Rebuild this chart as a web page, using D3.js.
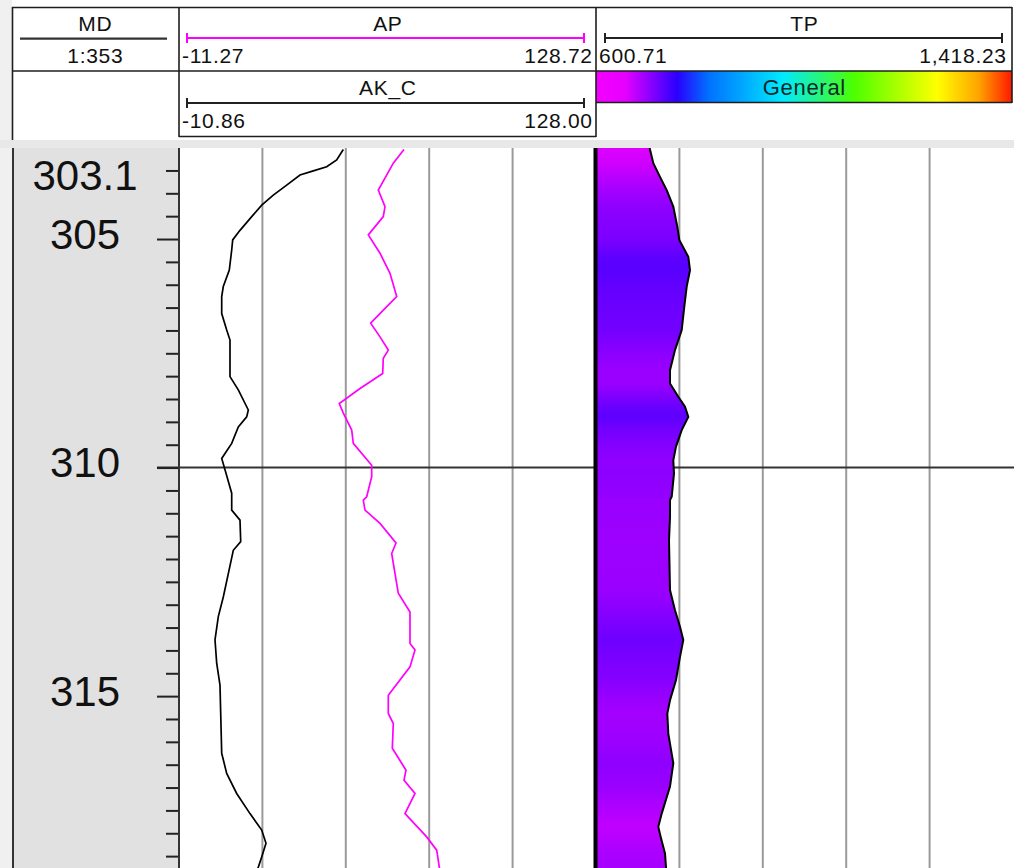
<!DOCTYPE html>
<html><head><meta charset="utf-8">
<script src="https://cdn.jsdelivr.net/npm/d3@7"></script>
<style>
html,body{margin:0;padding:0;background:#fff;}
svg{display:block;font-family:"Liberation Sans",Arial,sans-serif;}
</style>
</head><body>
<svg id="c" width="1014" height="868"></svg>
<script>
// ---------------- data ----------------
const depthDomain = [303.0, 318.76];
const depthLabelDepths = [303.71, 305, 310, 315];
const depthLabelTexts = ["303.1", "305", "310", "315"];
const depthMajorTicks = [305, 310, 315];
const depthGridLines = [310];

const akcRange = [-10.86, 128.00];
const apRange = [-11.27, 128.72];
const tpRange = [600.71, 1418.23];
const akcRangeLabels = ["-10.86", "128.00"];
const apRangeLabels = ["-11.27", "128.72"];
const tpRangeLabels = ["600.71", "1,418.23"];
const trackTitles = ["MD", "AP", "AK_C", "TP"];
const scaleText = "1:353";
const colorbarName = "General";

const akcDepth = [303.04,303.27,303.42,303.51,303.60,303.82,304.04,304.26,304.51,304.81,305.02,305.24,305.68,306.04,306.26,306.63,306.99,307.21,308.01,308.30,308.74,308.89,309.11,309.47,309.80,310.05,310.56,310.93,311.15,311.62,311.81,312.32,312.83,313.26,313.77,314.28,314.76,316.25,316.69,317.13,317.57,317.93,318.22,318.52,318.74,318.81];
const akcValue = [43.85,41.65,38.32,33.86,29.43,25.00,20.54,16.68,13.35,9.45,7.02,6.69,5.89,3.89,3.36,3.36,5.02,6.12,6.12,8.89,12.22,11.68,8.89,6.69,3.36,4.46,6.69,6.69,9.45,9.69,7.22,5.56,3.89,2.23,1.13,1.69,2.79,3.36,5.02,8.35,12.78,16.68,18.11,16.68,15.55,15.1];

const apDepth = [303.04,303.34,303.93,304.29,304.51,304.91,305.31,305.75,306.26,306.48,306.84,307.14,307.43,307.61,307.94,308.27,308.60,308.81,309.18,309.47,309.95,310.20,310.64,310.71,310.93,311.22,311.65,311.88,312.75,313.16,313.85,313.99,314.36,314.98,315.38,315.60,316.14,316.47,316.62,316.84,317.13,317.57,318.08,318.37,318.74,318.81];
const apValue = [64.26,60.67,55.64,57.88,57.31,52.28,56.21,59.56,61.81,58.46,53.08,56.21,58.99,57.31,57.11,49.49,42.54,43.89,46.71,47.24,53.42,53.42,51.74,50.60,51.17,56.21,61.58,60.13,62.35,66.28,66.28,67.96,66.28,58.99,58.99,60.67,60.34,63.49,64.93,64.26,67.96,64.60,71.88,75.24,76.11,76.35];

const tpDepth = [303.00,303.04,303.34,303.64,303.93,304.29,304.73,305.02,305.39,305.68,306.04,306.48,306.99,307.43,307.87,308.16,308.45,308.67,308.89,309.18,309.54,309.84,310.13,310.64,310.71,311.08,311.59,312.68,313.12,313.48,313.77,314.14,314.65,315.09,315.38,315.82,316.47,316.98,317.57,317.86,318.08,318.44,318.74,318.81];
const tpValue = [705.9,706.58,713.05,726.18,739.32,752.26,760.10,764.02,781.66,785.00,778.53,773.82,768.72,755.59,745.79,745.79,762.06,775.19,781.66,768.72,757.55,752.26,753.63,749.12,745.79,745.79,743.83,745.79,755.59,765.39,771.86,765.39,757.55,745.79,740.49,742.45,752.26,745.79,729.51,722.85,727.55,735.98,737.94,737.94];

// "General" colour map (fraction, colour) and fill colour ramp (TP value, colour)
const colormapStops = [0, 0.07, 0.195, 0.27, 0.45, 0.62, 0.82, 0.92, 1.0];
const colormapColors = ["#f400ff","#e600ff","#2a00ff","#0070ff","#00eaff","#4cff00","#ffff00","#ffa400","#ff1800"];
const fillStops = [685, 838];
const fillColors = ["#ff00ff", "#0000ff"];

// ---------------- layout ----------------
const svg = d3.select("#c");
const W = 1014, H = 868;
const plotTop = 147.6;
const depthX0 = 13, depthX1 = 179;
const apX0 = 179, apX1 = 596, tpX0 = 596, tpX1 = 1013;

const y = d3.scaleLinear().domain(depthDomain).range([plotTop, H]);
const xAK = d3.scaleLinear().domain(akcRange).range([apX0, apX1]);
const xAP = d3.scaleLinear().domain(apRange).range([apX0, apX1]);
const xTP = d3.scaleLinear().domain(tpRange).range([tpX0, tpX1]);
const gridAP = d3.scaleLinear().domain([0, 5]).range([apX0, apX1]);
const gridTP = d3.scaleLinear().domain([0, 5]).range([tpX0, tpX1]);
const fillScale = d3.scaleLinear().domain(fillStops).range(fillColors).clamp(true);

const defs = svg.append("defs");

// backgrounds
svg.append("rect").attr("x",0).attr("y",0).attr("width",W).attr("height",H).attr("fill","#fff");
svg.append("rect").attr("x",0).attr("y",0).attr("width",12).attr("height",H).attr("fill","#f0f0f0");
svg.append("rect").attr("x",0).attr("y",140).attr("width",W).attr("height",8).attr("fill","#e8e8e8");
svg.append("rect").attr("x",depthX0).attr("y",148).attr("width",depthX1-depthX0).attr("height",H-148).attr("fill","#e1e1e1");

// ---------------- header ----------------
const hdr = svg.append("g");
const bc = "#1e1e1e";
function hline(x1,x2,yy,w,c){hdr.append("line").attr("x1",x1).attr("x2",x2).attr("y1",yy).attr("y2",yy).attr("stroke",c||bc).attr("stroke-width",w||1.6);}
function vline(xx,y1,y2,w,c){hdr.append("line").attr("x1",xx).attr("x2",xx).attr("y1",y1).attr("y2",y2).attr("stroke",c||bc).attr("stroke-width",w||1.6);}
function txt(x,yy,s,anchor,size,fill){
  const ls = 0.7;
  const t = hdr.append("text").attr("y",yy).attr("text-anchor",anchor||"middle")
    .attr("font-size",size||21).attr("letter-spacing",ls).attr("fill",fill||"#111").text(s);
  // compensate trailing letter spacing for end/middle anchors
  const dx = anchor==="end" ? ls : (anchor==="start" ? 0 : ls/2);
  t.attr("x", x + dx);
}

// colour bar
const cg = defs.append("linearGradient").attr("id","cmap").attr("x1","0%").attr("x2","100%").attr("y1","0%").attr("y2","0%");
colormapStops.forEach((s,i)=>cg.append("stop").attr("offset",(s*100)+"%").attr("stop-color",colormapColors[i]));
hdr.append("rect").attr("x",tpX0).attr("y",71).attr("width",1012-tpX0).attr("height",31.5).attr("fill","url(#cmap)");
txt((tpX0+1012)/2, 95, colorbarName, "middle", 22, "#0a2a2a");

hline(12,1012,7.5);
hline(12,1012,71);
vline(12.5,7,140);
vline(179,7,137);
vline(596,7,137);
vline(1012,7,103);
hline(179,596,136.5);
hline(596,1012,102.5);

// MD
txt(95,30.5,trackTitles[0]);
hline(20,167,38.7,2.2,"#333");
txt(95,62.5,scaleText);

// scale bars
function scaleBar(x1,x2,yy,c){
  hline(x1,x2,yy,2,c); vline(x1,yy-5,yy+5,2,c); vline(x2,yy-5,yy+5,2,c);
}
txt((apX0+apX1)/2,30.5,trackTitles[1]);
scaleBar(187,584,38,"#ff00ff");
txt(182,62.5,apRangeLabels[0],"start");
txt(592,62.5,apRangeLabels[1],"end");

txt((apX0+apX1)/2,95,trackTitles[2]);
scaleBar(187,584,103,"#222");
txt(182,127.5,akcRangeLabels[0],"start");
txt(592,127.5,akcRangeLabels[1],"end");

txt((tpX0+1012)/2,30.5,trackTitles[3]);
scaleBar(605,1002,38,"#222");
txt(599,62.5,tpRangeLabels[0],"start");
txt(1006,62.5,tpRangeLabels[1],"end");

// ---------------- tracks ----------------
const plot = svg.append("g");
defs.append("clipPath").attr("id","plotclip").append("rect").attr("x",0).attr("y",148).attr("width",W).attr("height",H-148);
const pc = plot.append("g").attr("clip-path","url(#plotclip)");

// vertical grid lines
pc.selectAll(".gap").data(d3.range(1,5)).join("line")
  .attr("x1",d=>gridAP(d)).attr("x2",d=>gridAP(d)).attr("y1",148).attr("y2",H)
  .attr("stroke","#9a9a9a").attr("stroke-width",2);
pc.selectAll(".gtp").data(d3.range(1,5)).join("line")
  .attr("x1",d=>gridTP(d)).attr("x2",d=>gridTP(d)).attr("y1",148).attr("y2",H)
  .attr("stroke","#9a9a9a").attr("stroke-width",2);

// horizontal grid at 310
pc.selectAll(".hg").data(depthGridLines).join("line")
  .attr("x1",157).attr("x2",W).attr("y1",d=>y(d)).attr("y2",d=>y(d))
  .attr("stroke","#333").attr("stroke-width",2);

// depth axis ticks
const minorTicks = d3.range(303.5, 318.8, 0.5).filter(d=>!depthMajorTicks.includes(d));
const axMinor = d3.axisLeft(y).tickValues(minorTicks).tickSize(13).tickFormat("");
const axMajor = d3.axisLeft(y).tickValues(depthMajorTicks).tickSize(22).tickFormat("");
[axMinor, axMajor].forEach(ax=>{
  const g = pc.append("g").attr("transform",`translate(${depthX1},0)`).call(ax);
  g.select(".domain").remove();
  g.selectAll(".tick line").attr("stroke","#222").attr("stroke-width",2);
});
pc.selectAll(".dlab").data(depthLabelDepths).join("text")
  .attr("x",85).attr("y",d=>y(d)+9.5).attr("text-anchor","middle")
  .attr("font-size",42).attr("fill","#111")
  .text((d,i)=>depthLabelTexts[i]);

// TP filled area with depth gradient of value colour
const tpData = tpDepth.map((d,i)=>({d, v:tpValue[i]}));
const fg = defs.append("linearGradient").attr("id","tpfill").attr("gradientUnits","userSpaceOnUse")
  .attr("x1",0).attr("x2",0).attr("y1",y(depthDomain[0])).attr("y2",y(depthDomain[1]));
tpData.forEach(p=>fg.append("stop")
  .attr("offset",((y(p.d)-y(depthDomain[0]))/(y(depthDomain[1])-y(depthDomain[0]))))
  .attr("stop-color",fillScale(p.v)));
const area = d3.area().y(p=>y(p.d)).x0(tpX0).x1(p=>xTP(p.v));
pc.append("path").datum(tpData).attr("d",area).attr("fill","url(#tpfill)");
const line = d3.line().y(p=>y(p.d)).x(p=>xTP(p.v));
pc.append("path").datum(tpData).attr("d",line).attr("fill","none").attr("stroke","#000").attr("stroke-width",2);

// AK_C and AP curves
const akcData = akcDepth.map((d,i)=>({d, v:akcValue[i]}));
pc.append("path").datum(akcData).attr("d",d3.line().y(p=>y(p.d)).x(p=>xAK(p.v)))
  .attr("fill","none").attr("stroke","#000").attr("stroke-width",1.7);
const apData = apDepth.map((d,i)=>({d, v:apValue[i]}));
pc.append("path").datum(apData).attr("d",d3.line().y(p=>y(p.d)).x(p=>xAP(p.v)))
  .attr("fill","none").attr("stroke","#ff00ff").attr("stroke-width",1.7);

// track borders
pc.append("line").attr("x1",depthX0).attr("x2",depthX0).attr("y1",148).attr("y2",H).attr("stroke","#333").attr("stroke-width",2);
pc.append("line").attr("x1",depthX1).attr("x2",depthX1).attr("y1",148).attr("y2",H).attr("stroke","#333").attr("stroke-width",2);
pc.append("line").attr("x1",tpX0-0.5).attr("x2",tpX0-0.5).attr("y1",148).attr("y2",H).attr("stroke","#000").attr("stroke-width",4);
</script>
</body></html>
